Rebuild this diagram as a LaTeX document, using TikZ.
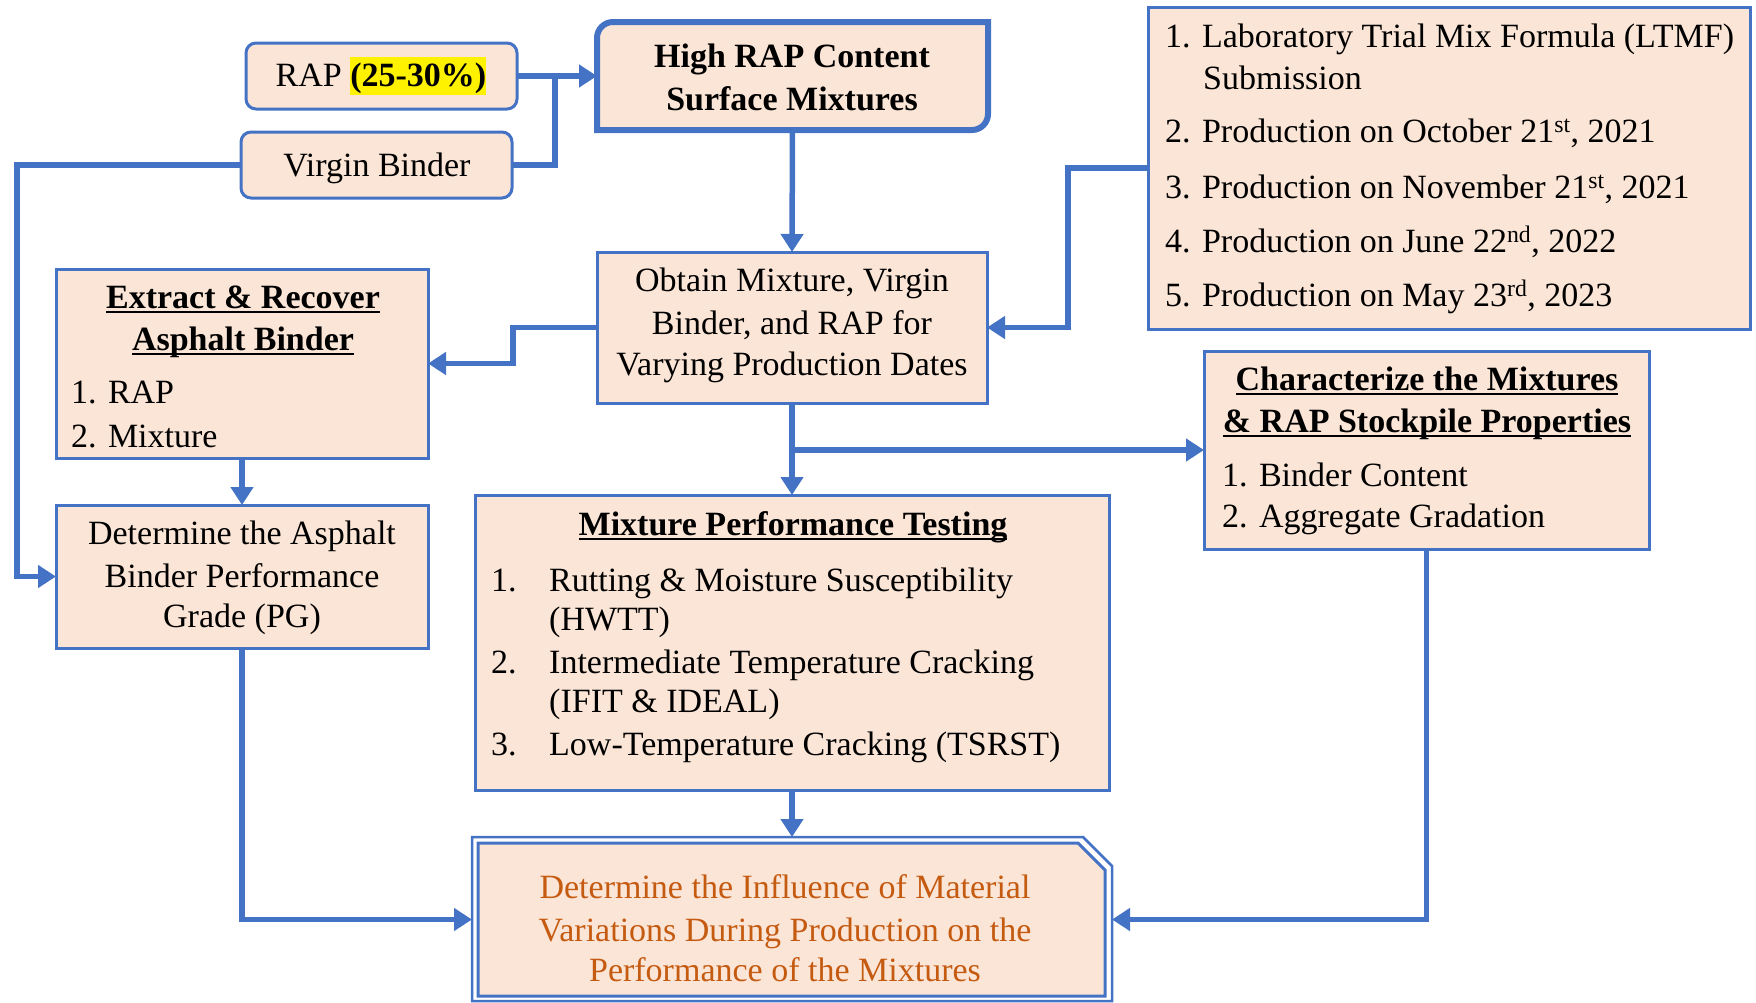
\documentclass[tikz,border=0pt]{standalone}
\usepackage{fontspec}
\setmainfont{Liberation Serif}
\usetikzlibrary{arrows.meta}
\definecolor{peach}{HTML}{FBE5D6}
\definecolor{bblue}{HTML}{4472C4}
\definecolor{otext}{HTML}{C55A11}
\newcommand\fsz{\fontsize{34}{42}\selectfont}
\newcommand\uln[1]{\sbox0{#1}\rlap{\rule[-4.5pt]{\wd0}{2pt}}\usebox0}
\newcommand\hlt[1]{{\setlength{\fboxsep}{0pt}\colorbox{yellow}{\rule[-9pt]{0pt}{38pt}\textbf{#1}}}}
\begin{document}
\begin{tikzpicture}[x=1pt,y=-1pt,
  box/.style={draw=bblue,line width=3pt,fill=peach,inner sep=0pt,outer sep=0pt},
  rbox/.style={box,rounded corners=10pt},
  conn/.style={draw=bblue,line width=5.5pt,-{Triangle[length=18pt,width=22pt]}},
  plainline/.style={draw=bblue,line width=5.5pt},
  tl/.style={inner sep=0pt,anchor=base west,font=\fsz},
  tm/.style={inner sep=0pt,anchor=base,font=\fsz}]
\useasboundingbox (0,0) rectangle (1756,1002);

% boxes
\node[rbox,minimum width=271pt,minimum height=66pt] (rap) at (381.5,76) {};
\node[rbox,minimum width=271pt,minimum height=66pt] (vb) at (376.5,165) {};
\node[inner sep=0pt,outer sep=0pt,minimum width=391pt,minimum height=108pt] (high) at (792.5,76) {};
\filldraw[draw=bblue,fill=peach,line width=6pt]
  (597,130) -- (597,38) arc[start angle=180,end angle=90,radius=16pt]
  -- (988,22) -- (988,114) arc[start angle=0,end angle=-90,radius=16pt] -- cycle;
\node[box,minimum width=602pt,minimum height=322pt] (ltmf) at (1449,168) {};
\node[box,minimum width=390pt,minimum height=151pt] (obt) at (792,327.5) {};
\node[box,minimum width=372pt,minimum height=189pt] (ext) at (242,363.5) {};
\node[box,minimum width=372pt,minimum height=143pt] (pg) at (242,576.5) {};
\node[box,minimum width=634pt,minimum height=295pt] (mpt) at (792,642.5) {};
\node[box,minimum width=445pt,minimum height=198pt] (chr) at (1426.5,450) {};
\node[inner sep=0pt,outer sep=0pt,minimum width=640pt,minimum height=165pt] (fin) at (792,919.5) {};
\draw[draw=bblue,line width=2.5pt] (472,837) -- (1083,837) -- (1112,866) -- (1112,1001) -- (472,1001) -- cycle;
\filldraw[draw=bblue,fill=peach,line width=3pt] (478,843) -- (1078,843) -- (1105,870) -- (1105,996) -- (478,996) -- cycle;

% texts
\node[tm] (t-rap) at (381,86) {RAP \hlt{(25-30\%)}};
\node[tm] (t-vb) at (377,176) {Virgin Binder};
\node[tm] (t-h1) at (792,67) {\textbf{High RAP Content}};
\node[tm] (t-h2) at (792,110) {\textbf{Surface Mixtures}};

\node[tl] (t-l1) at (1165,47) {1. Laboratory Trial Mix Formula (LTMF)};
\node[tl] (t-l1b) at (1203,89) {Submission};
\node[tl] (t-l2) at (1165,142) {2. Production on October 21\textsuperscript{st}, 2021};
\node[tl] (t-l3) at (1165,198) {3. Production on November 21\textsuperscript{st}, 2021};
\node[tl] (t-l4) at (1165,252) {4. Production on June 22\textsuperscript{nd}, 2022};
\node[tl] (t-l5) at (1165,306) {5. Production on May 23\textsuperscript{rd}, 2023};

\node[tm] (t-o1) at (792,291) {Obtain Mixture, Virgin};
\node[tm] (t-o2) at (792,334) {Binder, and RAP for};
\node[tm] (t-o3) at (792,375) {Varying Production Dates};

\node[tm] (t-e1) at (243,308) {\uln{\textbf{Extract \& Recover}}};
\node[tm] (t-e2) at (243,350) {\uln{\textbf{Asphalt Binder}}};
\node[tl] (t-e3) at (71,403) {1. RAP};
\node[tl] (t-e4) at (71,447) {2. Mixture};

\node[tm] (t-p1) at (242,544) {Determine the Asphalt};
\node[tm] (t-p2) at (242,587) {Binder Performance};
\node[tm] (t-p3) at (242,627) {Grade (PG)};

\node[tm] (t-m0) at (793,535) {\uln{\textbf{Mixture Performance Testing}}};
\node[tl] (t-m1n) at (491,591) {1.};
\node[tl] (t-m1) at (549,591) {Rutting \& Moisture Susceptibility};
\node[tl] (t-m1b) at (549,630) {(HWTT)};
\node[tl] (t-m2n) at (491,673) {2.};
\node[tl] (t-m2) at (549,673) {Intermediate Temperature Cracking};
\node[tl] (t-m2b) at (549,712) {(IFIT \& IDEAL)};
\node[tl] (t-m3n) at (491,755) {3.};
\node[tl] (t-m3) at (549,755) {Low-Temperature Cracking (TSRST)};

\node[tm] (t-c1) at (1427,390) {\uln{\textbf{Characterize the Mixtures}}};
\node[tm] (t-c2) at (1427,432) {\uln{\textbf{\& RAP Stockpile Properties}}};
\node[tl] (t-c3) at (1222,486) {1. Binder Content};
\node[tl] (t-c4) at (1222,527) {2. Aggregate Gradation};

\node[tm,text=otext] (t-f1) at (785,898) {Determine the Influence of Material};
\node[tm,text=otext] (t-f2) at (785,941) {Variations During Production on the};
\node[tm,text=otext] (t-f3) at (785,981) {Performance of the Mixtures};

% connectors
\coordinate (jx) at (555,0);
\coordinate (cL) at (17,0);
\coordinate (cR) at (1068,0);
\coordinate (cM) at (513,0);
\draw[conn] (rap.east) -- (high.west);
\draw[plainline] (vb.east) -- (vb.east -| jx) -- (jx |- rap.east);
\draw[conn] (vb.west) -- (vb.west -| cL) -- (cL |- pg.west) -- (pg.west);
\draw[conn] (high.south) -- (obt.north);
\draw[conn] (ltmf.west) -- (ltmf.west -| cR) -- (cR |- obt.east) -- (obt.east);
\draw[conn] (obt.west) -- (obt.west -| cM) -- (cM |- ext.east) -- (ext.east);
\draw[conn] (ext.south) -- (pg.north);
\draw[conn] (obt.south) -- (mpt.north);
\coordinate (br) at (obt.south |- chr.west);
\draw[conn] (br) -- (chr.west);
\draw[conn] (mpt.south) -- (fin.north);
\draw[conn] (pg.south) |- (fin.west);
\draw[conn] (chr.south) |- (fin.east);
\end{tikzpicture}
\end{document}
